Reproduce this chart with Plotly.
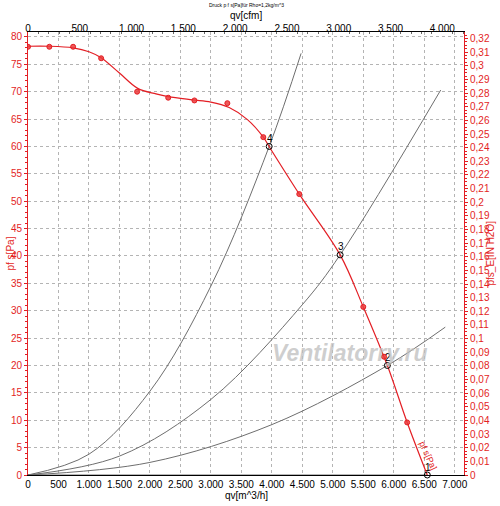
import plotly.graph_objects as go

# --- Kennlinie (pf s [Pa] ueber qv [m^3/h]) ---
fan_q = [0, 350, 740, 1000, 1200, 1500, 1800, 2100, 2300, 2700, 3000, 3300, 3600, 3860, 3960, 4450, 5120, 5500, 5895, 6220, 6550]
fan_p = [78.3, 78.3, 78.0, 77.3, 76.2, 73.4, 70.6, 69.6, 69.1, 68.5, 68.1, 67.1, 64.9, 61.7, 59.9, 51.3, 40.2, 30.7, 20.0, 9.6, 0.0]

# Messpunkte
meas_q = [0, 350, 740, 1200, 1790, 2300, 2730, 3270, 3860, 4450, 5500, 5840, 6220]
meas_p = [78.2, 78.2, 78.2, 76.1, 70.0, 68.9, 68.4, 67.9, 61.7, 51.3, 30.7, 21.6, 9.6]

# Anlagenkennlinien
sys4_q = [0, 1000, 2000, 3000, 3956, 4480]
sys4_p = [0, 3.8, 15.3, 34.5, 60.0, 77.0]
sys3_q = [0, 1500, 3000, 4500, 5120, 6770]
sys3_p = [0, 3.45, 13.8, 31.1, 40.2, 70.3]
sys2_q = [0, 2000, 4000, 5895, 6845]
sys2_p = [0, 2.3, 9.2, 20.0, 27.0]
sys1_q = [0, 6550]
sys1_p = [0, 0]

# Betriebspunkte
op_labels = ["4", "3", "2", "1"]
op_q = [3956, 5120, 5895, 6550]
op_p = [60.0, 40.2, 20.0, 0.0]

RED = "#e31e24"
GRID = "#b4b4b4"
FONT = "Liberation Sans, Arial, sans-serif"
M3H_PER_CFM = 1.69901
PA_PER_INH2O = 249.089
X_MAX = 7152
Y_MAX = 80.9

# Plotbereich in Pixeln
W, H = 500, 506
ML, MR, MT, MB = 28, 36, 32, 31
PW, PH = W - ML - MR, H - MT - MB

fig = go.Figure()

for q, p in [(sys4_q, sys4_p), (sys3_q, sys3_p), (sys2_q, sys2_p), (sys1_q, sys1_p)]:
    fig.add_trace(go.Scatter(x=q, y=p, mode="lines", line=dict(color="#6e6e6e", width=1, shape="spline"),
                             showlegend=False, hoverinfo="skip"))

fig.add_trace(go.Scatter(x=fan_q, y=fan_p, mode="lines", line=dict(color=RED, width=1.2, shape="spline"),
                         showlegend=False))
fig.add_trace(go.Scatter(x=meas_q, y=meas_p, mode="markers",
                         marker=dict(color="rgba(235,60,60,0.85)", size=5, line=dict(color=RED, width=1)),
                         showlegend=False))
fig.add_trace(go.Scatter(x=op_q, y=op_p, mode="markers",
                         marker=dict(symbol="circle-open", color="black", size=6, line=dict(width=1)),
                         showlegend=False, cliponaxis=False))

# Dummy-Traces fuer die Zweitachsen
fig.add_trace(go.Scatter(x=[0], y=[0], xaxis="x2", yaxis="y", mode="markers",
                         marker=dict(opacity=0), showlegend=False, hoverinfo="skip"))
fig.add_trace(go.Scatter(x=[0], y=[0], xaxis="x", yaxis="y2", mode="markers",
                         marker=dict(opacity=0), showlegend=False, hoverinfo="skip"))

annos = []
for lab, q, p in zip(op_labels, op_q, op_p):
    annos.append(dict(x=q, y=p, text=lab, showarrow=False, yshift=8, xshift=1,
                      font=dict(family=FONT, size=10, color="black")))
annos.append(dict(x=6560, y=3.4, text="pf s[Pa]", showarrow=False, textangle=66,
                  font=dict(family=FONT, size=9, color=RED)))
# Wasserzeichen
annos.append(dict(x=(350 - ML) / PW, y=(H - MB - 353) / PH, xref="paper", yref="paper",
                  text="Ventilatorry.ru", showarrow=False, xanchor="center", yanchor="middle",
                  font=dict(family=FONT, size=23, color="rgba(190,190,190,0.75)", style="italic", weight="bold")))
# Titel und Achsentitel
annos += [
    dict(x=0.5, y=1, xref="paper", yref="paper", yshift=27, yanchor="middle", showarrow=False,
         text="Druck p f s[Pa]für Rho=1,2kg/m^3", font=dict(family=FONT, size=5, color="black")),
    dict(x=0.5, y=1, xref="paper", yref="paper", yshift=17, yanchor="middle", showarrow=False,
         text="qv[cfm]", font=dict(family=FONT, size=10, color="black")),
    dict(x=0.5, y=0, xref="paper", yref="paper", yshift=-20, yanchor="middle", showarrow=False,
         text="qv[m^3/h]", font=dict(family=FONT, size=10, color="black")),
    dict(x=0, y=0.5, xref="paper", yref="paper", xshift=-18, xanchor="center", showarrow=False,
         textangle=-90, text="pf s[Pa]", font=dict(family=FONT, size=10, color=RED)),
    dict(x=1, y=0.5, xref="paper", yref="paper", xshift=26, xanchor="center", showarrow=False,
         textangle=-90, text="pfs_E[IN H2O]", font=dict(family=FONT, size=10, color=RED)),
]

fig.update_layout(
    width=W, height=H,
    margin=dict(l=ML, r=MR, t=MT, b=MB, autoexpand=False),
    paper_bgcolor="white", plot_bgcolor="white",
    separators=",.",
    font=dict(family=FONT, size=10, color="black"),
    annotations=annos,
    xaxis=dict(range=[0, X_MAX], dtick=500, tickformat=",d", showgrid=True, gridcolor=GRID,
               griddash="dot", gridwidth=1, zeroline=False, showline=True, linecolor="black",
               linewidth=1, ticks="", automargin=False,
               tickfont=dict(size=10, color="black")),
    xaxis2=dict(overlaying="x", side="top", range=[0, X_MAX / M3H_PER_CFM], dtick=500, tickformat=",d",
                showgrid=False, zeroline=False, showline=True, linecolor="black", linewidth=1,
                ticks="", automargin=False, ticklabelstandoff=-5,
                minor=dict(dtick=100, ticks="inside", ticklen=2, tickcolor="#666"),
                tickfont=dict(size=10, color="black")),
    yaxis=dict(range=[0, Y_MAX], dtick=5, showgrid=True, gridcolor=GRID, griddash="dot",
               gridwidth=1, zeroline=False, showline=True, linecolor=RED, linewidth=1,
               ticks="outside", ticklen=3, tickcolor=RED, automargin=False,
               minor=dict(dtick=1, ticks="outside", ticklen=2, tickcolor=RED),
               tickfont=dict(size=10, color=RED)),
    yaxis2=dict(overlaying="y", side="right", range=[0, Y_MAX / PA_PER_INH2O], dtick=0.01,
                tickformat=".2~f",
                showgrid=False, zeroline=False, showline=True, linecolor=RED, linewidth=1,
                ticks="outside", ticklen=3, tickcolor=RED, automargin=False,
                minor=dict(dtick=0.0025, ticks="outside", ticklen=2, tickcolor=RED),
                tickfont=dict(size=10, color=RED)),
)

# Standard-Rand des Browsers entfernen, damit die Grafik genau ins Fenster passt
fig.write_html("out.html", config={"displayModeBar": False},
               post_script="document.body.style.margin='0';")
